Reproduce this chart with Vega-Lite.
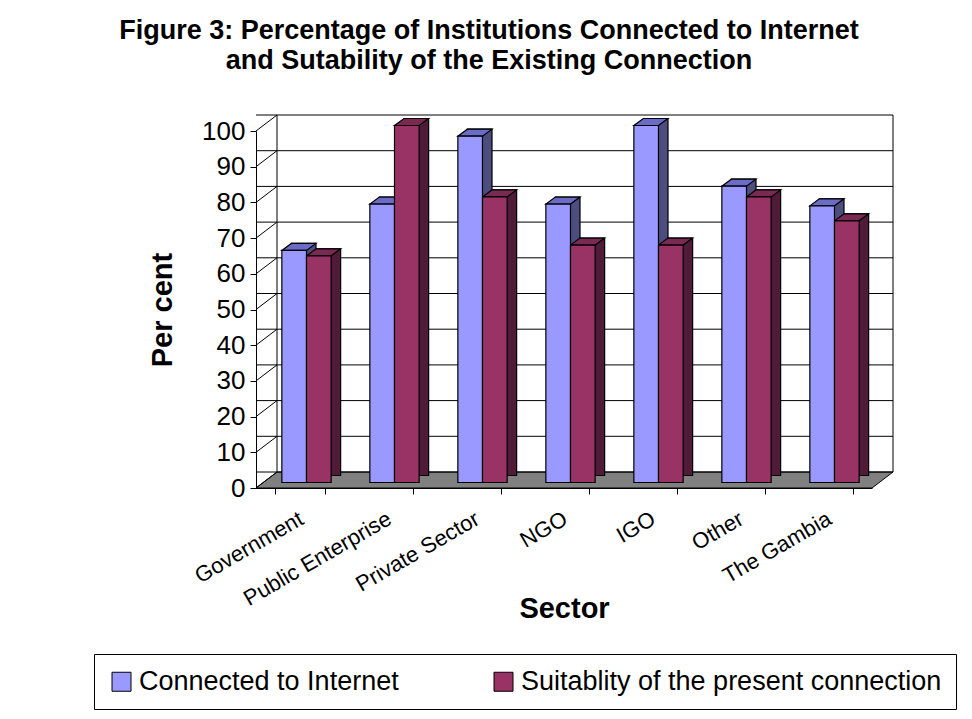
{
  "$schema": "https://vega.github.io/schema/vega-lite/v6.json",
  "width": 616,
  "height": 357,
  "autosize": {"type": "none"},
  "padding": {"left": 256, "top": 131, "right": 100, "bottom": 231},
  "background": "white",
  "config": {
    "font": "Liberation Sans",
    "view": {"stroke": null},
    "axisY": {"labelOverlap": false, "labelFlush": false, "tickCount": 11, "labelFontSize": 26}
  },
  "title": {
    "text": ["Figure 3: Percentage of Institutions Connected to Internet", "and Sutability of the Existing Connection"],
    "fontSize": 27,
    "fontWeight": "bold",
    "font": "Liberation Sans",
    "color": "black",
    "anchor": "middle",
    "dx": -75,
    "offset": 40,
    "lineHeight": 30
  },
  "datasets": {
    "bars": [
      {"Sector": "Government", "Series": "Connected to Internet", "Value": 65},
      {"Sector": "Government", "Series": "Suitablity of the present connection", "Value": 63.5},
      {"Sector": "Public Enterprise", "Series": "Connected to Internet", "Value": 78},
      {"Sector": "Public Enterprise", "Series": "Suitablity of the present connection", "Value": 100},
      {"Sector": "Private Sector", "Series": "Connected to Internet", "Value": 97},
      {"Sector": "Private Sector", "Series": "Suitablity of the present connection", "Value": 80},
      {"Sector": "NGO", "Series": "Connected to Internet", "Value": 78},
      {"Sector": "NGO", "Series": "Suitablity of the present connection", "Value": 66.5},
      {"Sector": "IGO", "Series": "Connected to Internet", "Value": 100},
      {"Sector": "IGO", "Series": "Suitablity of the present connection", "Value": 66.5},
      {"Sector": "Other", "Series": "Connected to Internet", "Value": 83},
      {"Sector": "Other", "Series": "Suitablity of the present connection", "Value": 80},
      {"Sector": "The Gambia", "Series": "Connected to Internet", "Value": 77.5},
      {"Sector": "The Gambia", "Series": "Suitablity of the present connection", "Value": 73.3}
    ],
    "gridticks": [
      {"tick": 0}, {"tick": 10}, {"tick": 20}, {"tick": 30}, {"tick": 40}, {"tick": 50},
      {"tick": 60}, {"tick": 70}, {"tick": 80}, {"tick": 90}, {"tick": 100}
    ],
    "frame": [{"Sector": "Government", "base": 0}]
  },
  "layer": [
    {
      "data": {"name": "frame"},
      "mark": {"type": "point", "filled": true, "fill": "#808080", "stroke": "black", "strokeWidth": 1, "opacity": 1, "size": 4,
        "shape": "M-44,0 L572,0 L593,-16 L-23,-16 Z"},
      "encoding": {
        "x": {"field": "Sector", "type": "nominal"},
        "y": {"field": "base", "type": "quantitative"}
      }
    },
    {
      "data": {"name": "gridticks"},
      "mark": {"type": "rule", "color": "black", "strokeWidth": 1, "xOffset": 21, "x2Offset": 21, "yOffset": -16, "y2Offset": -16},
      "encoding": {
        "y": {"field": "tick", "type": "quantitative"}
      }
    },
    {
      "data": {"name": "gridticks"},
      "mark": {"type": "rule", "color": "black", "strokeWidth": 1, "xOffset": -19.36, "x2Offset": 1.64, "y2Offset": -16},
      "encoding": {
        "x": {"datum": "Government", "bandPosition": 0},
        "x2": {"datum": "Government", "bandPosition": 0},
        "y": {"field": "tick", "type": "quantitative"},
        "y2": {"field": "tick"}
      }
    },
    {
      "data": {"name": "frame"},
      "mark": {"type": "rule", "color": "black", "strokeWidth": 1, "xOffset": 1.64, "yOffset": -16, "y2Offset": -16},
      "encoding": {
        "x": {"datum": "Government", "bandPosition": 0},
        "y": {"datum": 100, "type": "quantitative"},
        "y2": {"datum": 0}
      }
    },
    {
      "data": {"name": "frame"},
      "mark": {"type": "rule", "color": "black", "strokeWidth": 1, "xOffset": 40.36, "yOffset": -16, "y2Offset": -16},
      "encoding": {
        "x": {"datum": "The Gambia", "bandPosition": 1},
        "y": {"datum": 100, "type": "quantitative"},
        "y2": {"datum": 0}
      }
    },
    {
      "data": {"name": "bars"},
      "mark": {"type": "bar", "stroke": "black", "strokeWidth": 1.2, "yOffset": -12.5, "y2Offset": -12.5},
      "encoding": {
        "x": {"field": "Sector", "type": "nominal"},
        "xOffset": {"field": "Series", "type": "nominal", "scale": {"range": [16, 65.28]}},
        "y": {"field": "Value", "type": "quantitative"},
        "color": {"condition": {"test": "datum.Series === 'Connected to Internet'", "value": "#4D4D80"}, "value": "#4F1B38"}
      }
    },
    {
      "data": {"name": "bars"},
      "mark": {"type": "point", "filled": true, "stroke": "black", "strokeWidth": 1.2, "opacity": 1, "size": 4, "yOffset": -5.5,
        "shape": "M-12.32,0 L12.32,0 L21.82,-7 L-2.82,-7 Z"},
      "encoding": {
        "x": {"field": "Sector", "type": "nominal"},
        "xOffset": {"field": "Series", "type": "nominal", "scale": {"range": [6.5, 55.78]}},
        "y": {"field": "Value", "type": "quantitative"},
        "fill": {"condition": {"test": "datum.Series === 'Connected to Internet'", "value": "#6B6BC8"}, "value": "#7A2952"}
      }
    },
    {
      "data": {"name": "bars"},
      "mark": {"type": "bar", "stroke": "black", "strokeWidth": 1.2, "yOffset": -5.5, "y2Offset": -5.5},
      "encoding": {
        "x": {
          "field": "Sector", "type": "nominal",
          "scale": {"domain": ["Government", "Public Enterprise", "Private Sector", "NGO", "IGO", "Other", "The Gambia"], "paddingInner": 0.44, "paddingOuter": 0.22},
          "axis": {
            "title": "Sector", "titleFontSize": 29, "titleFontWeight": "bold", "titleColor": "black",
            "titleBaseline": "alphabetic", "titleY": 129,
            "labelAngle": -30, "labelFontSize": 22, "labelColor": "black", "labelAlign": "right", "labelBaseline": "top", "labelPadding": 14, "labelOffset": -4,
            "tickBand": "extent", "tickColor": "black", "tickSize": 6, "domainColor": "black", "labelOverlap": false, "grid": false
          }
        },
        "xOffset": {"field": "Series", "type": "nominal", "scale": {"range": [6.5, 55.78]}},
        "y": {
          "field": "Value", "type": "quantitative",
          "scale": {"domain": [0, 100], "nice": false},
          "axis": {
            "title": "Per cent", "titleFontSize": 29, "titleFontWeight": "bold", "titleColor": "black", "titlePadding": 24,
            "values": [0, 10, 20, 30, 40, 50, 60, 70, 80, 90, 100], "tickCount": 11, "labelOverlap": false, "labelFlush": false,
            "labelFontSize": 26, "labelColor": "black", "labelPadding": 5, "grid": false,
            "tickColor": "black", "tickSize": 6, "domainColor": "black"
          }
        },
        "color": {
          "field": "Series", "type": "nominal",
          "scale": {"domain": ["Connected to Internet", "Suitablity of the present connection"], "range": ["#9999FF", "#993366"]},
          "legend": {
            "orient": "none", "legendX": -162, "legendY": 523, "direction": "horizontal", "title": null,
            "symbolType": "square", "symbolSize": 361, "symbolStrokeColor": "black", "symbolStrokeWidth": 1, "symbolOpacity": 1,
            "labelFontSize": 27, "labelColor": "black", "labelLimit": 700, "labelOffset": 4,
            "strokeColor": "black", "padding": 14, "columnPadding": 91
          }
        }
      }
    }
  ],
  "resolve": {"scale": {"xOffset": "independent"}}
}
